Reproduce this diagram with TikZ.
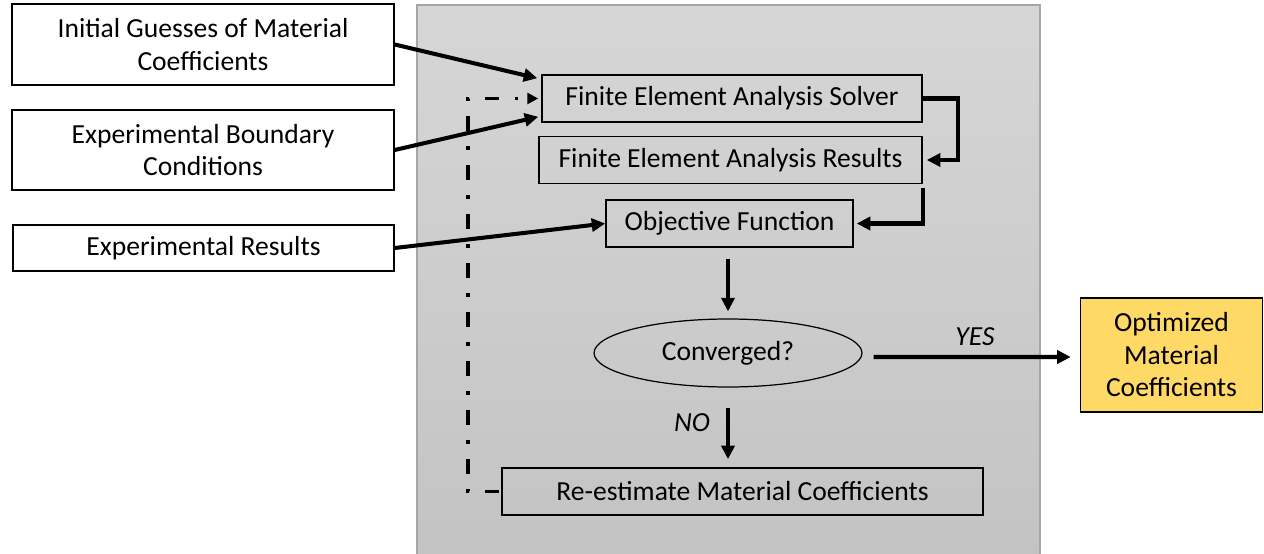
\documentclass[tikz,border=0pt]{standalone}
\usepackage{fontspec}
\setmainfont{Carlito}
\usetikzlibrary{arrows.meta,shapes.geometric,calc}
\definecolor{goldfill}{HTML}{FFD966}
\definecolor{panelTop}{HTML}{D6D6D6}
\definecolor{panelBot}{HTML}{C3C3C3}
\tikzset{
  txt/.style={font=\fontsize{15.7}{18.5}\selectfont},
  outbox/.style={txt, draw=black, line width=0.9pt, fill=white, align=center, inner sep=2pt},
  inbox/.style={txt, draw=black, line width=0.9pt, align=center, inner sep=2pt},
  arr/.style={line width=2.3pt, -{Triangle[length=0.27cm,width=0.26cm]}},
  loop/.style={line width=2.2pt, dash pattern=on 0.07cm off 0.31cm on 0.29cm off 0.31cm, -{Triangle[length=0.22cm,width=0.22cm]}},
  lbl/.style={font=\fontsize{15.7}{18}\selectfont\itshape}
}
\begin{document}
\begin{tikzpicture}[x=0.02cm,y=-0.02cm]
\useasboundingbox (0,0) rectangle (1264,554);
% gray panel
\shade[top color=panelTop, bottom color=panelBot, draw=gray!70, line width=0.6pt] (417,5) rectangle (1040,560);
% left inputs
\node[outbox, minimum width=7.64cm, minimum height=1.62cm] (init) at (203,44.5) {Initial Guesses of Material\\Coefficients};
\node[outbox, minimum width=7.64cm, minimum height=1.6cm] (bc) at (203,150) {Experimental Boundary\\Conditions};
\node[outbox, minimum width=7.62cm, minimum height=0.92cm] (expres) at (203.5,248) {Experimental Results};
% inner boxes
\node[inbox, minimum width=7.6cm, minimum height=0.94cm] (solver) at (732,98.5) {Finite Element Analysis Solver};
\node[inbox, minimum width=7.66cm, minimum height=0.94cm] (results) at (730.5,160) {Finite Element Analysis Results};
\node[inbox, minimum width=4.94cm, minimum height=0.94cm] (obj) at (729.5,223.5) {Objective Function};
\node[txt, draw=black, line width=0.7pt, ellipse, minimum width=5.36cm, minimum height=1.36cm, inner sep=0pt] (conv) at (728,353) {Converged?};
\node[inbox, minimum width=9.62cm, minimum height=0.94cm] (reest) at (742.5,491.5) {Re-estimate Material Coefficients};
\node[txt, draw=black, line width=0.9pt, fill=goldfill, align=center, minimum width=3.64cm, minimum height=2.28cm] (opt) at (1171.5,355) {Optimized\\Material\\Coefficients};
% arrows
\draw[arr] (init.east) -- ([xshift=-0.08cm,yshift=-0.08cm]solver.north west);
\draw[arr] (bc.east) -- ([xshift=-0.06cm,yshift=0.12cm]solver.south west);
\draw[arr] (expres.east) -- (obj.west);
\draw[arr] (solver.east) -- ++(35,0) |- ([xshift=0.08cm]results.east);
\draw[arr] ([yshift=-0.08cm]results.south east) |- ([xshift=0.06cm]obj.east);
\draw[arr, shorten <=0.22cm, shorten >=0.14cm] (conv.north |- obj.south) -- (conv.north);
\draw[arr, shorten <=0.4cm, shorten >=0.16cm] (conv.south) -- (conv.south |- reest.north);
\node[lbl] (no) at (692,423) {NO};
\draw[arr, shorten <=0.22cm, shorten >=0.18cm] ([yshift=-0.08cm]conv.east) -- ([yshift=-0.04cm]opt.west);
\node[lbl] (yes) at (975,337) {YES};
\coordinate (cb) at (468,491.5);
\coordinate (ct) at (468,98.5);
\draw[loop, dash phase=0.34cm] (reest.west) -- (cb) -- (ct) -- ([xshift=-0.06cm]solver.west);
\end{tikzpicture}
\end{document}
